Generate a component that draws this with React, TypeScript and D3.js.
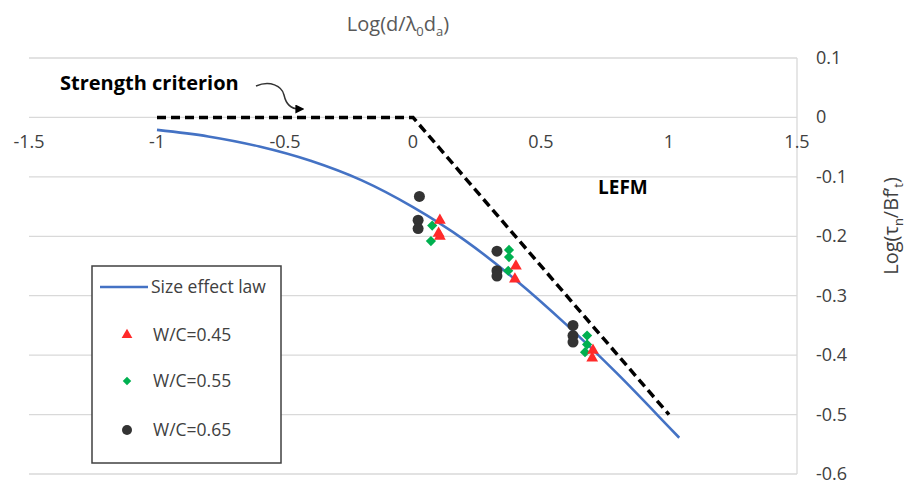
import React, { useEffect, useRef } from 'react';
import * as d3 from 'd3';

const xTicks = [-1.5, -1, -0.5, 0, 0.5, 1, 1.5];
const yTicks = [0.1, 0, -0.1, -0.2, -0.3, -0.4, -0.5, -0.6];

// blue curve, read along its length
const lawX = [-1, -0.8, -0.6, -0.4, -0.2, 0, 0.2, 0.4, 0.6, 0.8, 1.0, 1.04];
const lawY = [-0.021, -0.032, -0.049, -0.073, -0.106, -0.151, -0.206, -0.273, -0.349, -0.432, -0.521, -0.539];

// dashed strength criterion / LEFM asymptotes
const critX = [-1, 0, 1];
const critY = [0, 0, -0.5];

const wc45X = [0.105, 0.1, 0.105, 0.402, 0.398, 0.703, 0.7];
const wc45Y = [-0.173, -0.195, -0.2, -0.25, -0.272, -0.392, -0.405];

const wc55X = [0.075, 0.07, 0.375, 0.375, 0.372, 0.68, 0.68, 0.672];
const wc55Y = [-0.182, -0.208, -0.223, -0.235, -0.258, -0.367, -0.382, -0.395];

const wc65X = [0.025, 0.02, 0.02, 0.328, 0.328, 0.328, 0.625, 0.625, 0.625];
const wc65Y = [-0.133, -0.173, -0.187, -0.225, -0.258, -0.267, -0.35, -0.367, -0.378];

const legendText = ['Size effect law', 'W/C=0.45', 'W/C=0.55', 'W/C=0.65'];

const W = 916;
const H = 487;
const FONT = '"Open Sans", sans-serif';

const App = () => {
  const svgRef = useRef<SVGSVGElement>(null);

  useEffect(() => {
    document.body.style.margin = '0';
    const svg = d3.select(svgRef.current);
    svg.selectAll('*').remove();

    const x = d3.scaleLinear().domain([-1.5, 1.5]).range([29, 797]);
    const y = d3.scaleLinear().domain([0.1, -0.6]).range([58, 474]);
    const fmt = (d: number) => d3.format('')(d).replace('−', '-');

    // grid
    svg.append('g')
      .selectAll('line')
      .data(yTicks)
      .enter().append('line')
      .attr('x1', x(-1.5)).attr('x2', x(1.5))
      .attr('y1', d => y(d)).attr('y2', d => y(d))
      .attr('stroke', '#d9d9d9')
      .attr('stroke-width', 1.3);

    svg.append('line')
      .attr('x1', x(1.5)).attr('x2', x(1.5))
      .attr('y1', y(0.1)).attr('y2', y(-0.6))
      .attr('stroke', '#d9d9d9')
      .attr('stroke-width', 1.3);

    // tick labels
    svg.append('g')
      .selectAll('text')
      .data(xTicks)
      .enter().append('text')
      .attr('x', d => x(d))
      .attr('y', y(0) + 31)
      .attr('text-anchor', 'middle')
      .style('font-family', FONT)
      .style('font-size', '18px')
      .attr('fill', '#404040')
      .text(fmt);

    svg.append('g')
      .selectAll('text')
      .data(yTicks)
      .enter().append('text')
      .attr('x', 816)
      .attr('y', d => y(d) + 6)
      .style('font-family', FONT)
      .style('font-size', '18px')
      .attr('fill', '#404040')
      .text(fmt);

    // axis titles
    const top = svg.append('text')
      .attr('x', 398).attr('y', 31)
      .attr('text-anchor', 'middle')
      .style('font-family', FONT)
      .style('font-size', '20px')
      .attr('fill', '#595959');
    top.append('tspan').text('Log(d/λ');
    top.append('tspan').attr('dy', 5).style('font-size', '13px').text('0');
    top.append('tspan').attr('dy', -5).text('d');
    top.append('tspan').attr('dy', 5).style('font-size', '13px').text('a');
    top.append('tspan').attr('dy', -5).text(')');

    const right = svg.append('text')
      .attr('transform', 'translate(898,226) rotate(-90)')
      .attr('text-anchor', 'middle')
      .style('font-family', FONT)
      .style('font-size', '20px')
      .attr('fill', '#404040');
    right.append('tspan').text('Log(τ');
    right.append('tspan').attr('dy', 5).style('font-size', '13px').text('n');
    right.append('tspan').attr('dy', -5).text('/Bf’');
    right.append('tspan').attr('dy', 5).style('font-size', '13px').text('t');
    right.append('tspan').attr('dy', -5).text(')');

    // strength criterion dashed line
    const critLine = d3.line<number>()
      .x((d, i) => x(critX[i]))
      .y(d => y(d));
    svg.append('path')
      .datum(critY)
      .attr('fill', 'none')
      .attr('stroke', '#000')
      .attr('stroke-width', 3.5)
      .attr('stroke-dasharray', '9,5')
      .attr('d', critLine);

    // size effect law
    const lawLine = d3.line<number>()
      .x((d, i) => x(lawX[i]))
      .y(d => y(d))
      .curve(d3.curveMonotoneX);
    svg.append('path')
      .datum(lawY)
      .attr('fill', 'none')
      .attr('stroke', '#4472C4')
      .attr('stroke-width', 2.6)
      .attr('d', lawLine);

    // markers
    const tri = d3.symbol().type(d3.symbolTriangle).size(60);
    const dia = d3.symbol().type(d3.symbolSquare).size(52);

    svg.append('g')
      .selectAll('circle')
      .data(wc65Y)
      .enter().append('circle')
      .attr('cx', (d, i) => x(wc65X[i]))
      .attr('cy', d => y(d))
      .attr('r', 5.5)
      .attr('fill', '#333333');

    svg.append('g')
      .selectAll('path')
      .data(wc55Y)
      .enter().append('path')
      .attr('d', dia)
      .attr('transform', (d, i) => `translate(${x(wc55X[i])},${y(d)}) rotate(45)`)
      .attr('fill', '#00B050');

    svg.append('g')
      .selectAll('path')
      .data(wc45Y)
      .enter().append('path')
      .attr('d', tri)
      .attr('transform', (d, i) => `translate(${x(wc45X[i])},${y(d)})`)
      .attr('fill', '#FF2A2A');

    // annotations
    svg.append('text')
      .attr('x', 60).attr('y', 90)
      .style('font-family', FONT)
      .style('font-size', '20px')
      .style('font-weight', 'bold')
      .attr('fill', '#000')
      .text('Strength criterion');

    svg.append('defs').append('marker')
      .attr('id', 'arrowhead')
      .attr('viewBox', '0 0 10 10')
      .attr('refX', 4).attr('refY', 5)
      .attr('markerWidth', 6).attr('markerHeight', 6)
      .attr('orient', 'auto')
      .append('path')
      .attr('d', 'M0,0 L10,5 L0,10 z')
      .attr('fill', '#000');

    svg.append('path')
      .attr('d', 'M256,86 C270,80 282,86 284,95 C286,104 290,109 299,109')
      .attr('fill', 'none')
      .attr('stroke', '#333')
      .attr('stroke-width', 1.5)
      .attr('marker-end', 'url(#arrowhead)');

    svg.append('text')
      .attr('x', 598).attr('y', 194)
      .style('font-family', FONT)
      .style('font-size', '19px')
      .style('font-weight', 'bold')
      .attr('fill', '#000')
      .text('LEFM');

    // legend
    const lg = svg.append('g');
    lg.append('rect')
      .attr('x', 92).attr('y', 266)
      .attr('width', 189).attr('height', 197)
      .attr('fill', '#fff')
      .attr('stroke', '#404040')
      .attr('stroke-width', 1.5);

    lg.append('line')
      .attr('x1', 100).attr('x2', 148)
      .attr('y1', 287).attr('y2', 287)
      .attr('stroke', '#4472C4')
      .attr('stroke-width', 2.6);

    lg.append('path')
      .attr('d', d3.symbol().type(d3.symbolTriangle).size(50)())
      .attr('transform', 'translate(127,335)')
      .attr('fill', '#FF2A2A');
    lg.append('path')
      .attr('d', d3.symbol().type(d3.symbolSquare).size(36)())
      .attr('transform', 'translate(127,381) rotate(45)')
      .attr('fill', '#00B050');
    lg.append('circle')
      .attr('cx', 127).attr('cy', 430).attr('r', 5)
      .attr('fill', '#333333');

    const legendY = [287, 335, 381, 430];
    lg.selectAll('text.lbl')
      .data(legendText)
      .enter().append('text')
      .attr('class', 'lbl')
      .attr('x', (d, i) => (i === 0 ? 151 : 153))
      .attr('y', (d, i) => legendY[i] + 6)
      .style('font-family', FONT)
      .style('font-size', '17.5px')
      .attr('fill', '#404040')
      .text(d => d);
  }, []);

  return (
    <svg ref={svgRef} width={W} height={H} style={{ display: 'block', background: '#fff' }} />
  );
};

export default App;
